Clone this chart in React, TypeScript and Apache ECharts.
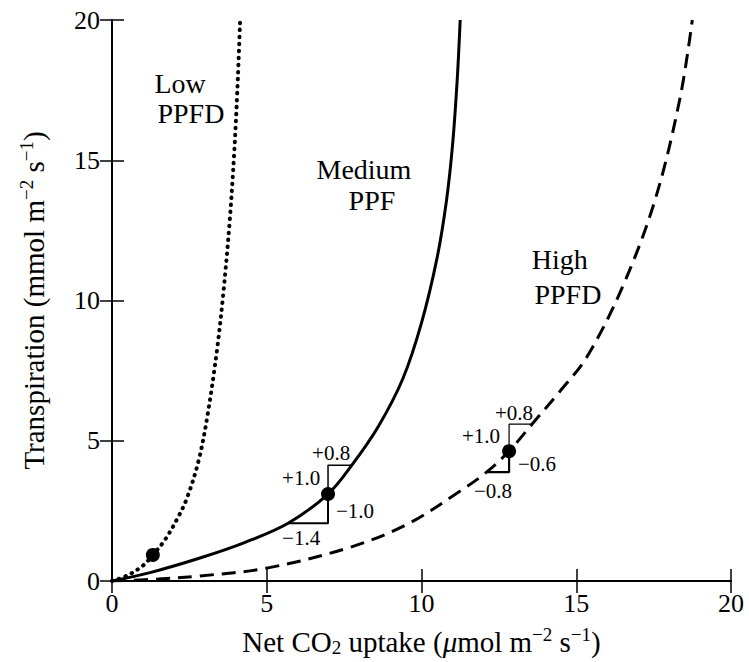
import React, { useEffect, useRef } from "react";
import * as echarts from "echarts";

const FONT = "'Liberation Serif', 'DejaVu Serif', serif";

const xTicks = [0, 5, 10, 15, 20];
const yTicks = [0, 5, 10, 15, 20];

// Low PPFD (dotted)
const lowX = [0, 0.5, 1.0, 1.32, 1.7, 2.1, 2.42, 2.8, 3.1, 3.4, 3.6, 3.8, 3.95, 4.05, 4.14];
const lowY = [0, 0.2, 0.55, 0.93, 1.45, 2.2, 2.95, 4.3, 6.0, 8.3, 10.3, 12.8, 15.3, 17.5, 20];

// Medium PPF (solid)
const medX = [0, 1.23, 2.84, 4.3, 5.69, 6.98, 7.75, 8.6, 9.4, 10.0, 10.5, 10.8, 11.0, 11.15, 11.25];
const medY = [0, 0.3, 0.82, 1.38, 2.06, 3.1, 4.13, 5.5, 7.22, 9.2, 11.5, 13.5, 15.5, 17.8, 20];

// High PPFD (dashed)
const highX = [0, 1.5, 2.84, 5.0, 7.6, 9.5, 11.24, 12.1, 12.83, 13.57, 14.5, 15.35, 16.5, 17.55, 18.35, 18.75];
const highY = [0, 0.07, 0.18, 0.46, 1.17, 2.0, 3.2, 3.88, 4.63, 5.59, 6.8, 8.0, 10.5, 13.6, 17.2, 20];

// operating points (dots)
const dotX = [1.32, 6.98, 12.83];
const dotY = [0.93, 3.1, 4.63];

// sensitivity triangles
const medUpper = [[6.98, 3.1], [6.98, 4.13], [7.75, 4.13]];
const medLower = [[6.98, 3.1], [6.98, 2.06], [5.69, 2.06]];
const highUpper = [[12.83, 4.63], [12.83, 5.59], [13.57, 5.59]];
const highLower = [[12.83, 4.63], [12.83, 3.88], [12.1, 3.88]];

// annotation texts
const annoText = ["+0.8", "+1.0", "\u22121.0", "\u22121.4", "+0.8", "+1.0", "\u22120.6", "\u22120.8"];
const annoX = [7.08, 6.11, 7.85, 6.11, 12.99, 11.92, 13.73, 12.31];
const annoY = [4.56, 3.67, 2.49, 1.53, 5.98, 5.16, 4.16, 3.2];

// curve labels
const curveText = ["Low", "PPFD", "Medium", "PPF", "High", "PPFD"];
const curveX = [2.2, 2.55, 8.14, 8.4, 14.47, 14.73];
const curveY = [17.75, 16.66, 14.68, 13.56, 11.45, 10.2];

const zip = (xs: number[], ys: number[]) => xs.map((x, i) => [x, ys[i]]);

export default function App() {
  const ref = useRef<HTMLDivElement>(null);
  useEffect(() => {
    document.body.style.margin = "0";
    if (!ref.current) return;
    const chart = echarts.init(ref.current, null, { renderer: "svg" });
    const axisCommon = {
      min: 0,
      max: 20,
      interval: 5,
      axisLine: { show: true, lineStyle: { color: "#000", width: 2 } },
      axisTick: { show: true, inside: true, length: 12, lineStyle: { color: "#000", width: 1.5 } },
      splitLine: { show: false },
    };
    const labelStyle = { color: "#000", fontFamily: FONT, fontSize: 26 };
    const rich = {
      n: { fontFamily: FONT, fontSize: 29, color: "#000" },
      i: { fontFamily: FONT, fontSize: 29, color: "#000", fontStyle: "italic" },
      sub: { fontFamily: FONT, fontSize: 19, color: "#000", padding: [12, 0, 0, 0] },
      sup: { fontFamily: FONT, fontSize: 19, color: "#000", padding: [0, 0, 14, 0] },
    };
    const lineSeries = (data: number[][], style: any) => ({
      type: "line",
      data,
      showSymbol: false,
      smooth: 0.35,
      lineStyle: style,
      z: 3,
    });
    const segSeries = (data: number[][], width: number) => ({
      type: "line",
      data,
      showSymbol: false,
      lineStyle: { color: "#000", width },
      z: 2,
    });
    const textSeries = (texts: string[], xs: number[], ys: number[], size: number) => ({
      type: "scatter",
      data: texts.map((t, i) => ({ name: t, value: [xs[i], ys[i]] })),
      symbolSize: 0,
      itemStyle: { opacity: 1 },
      label: {
        show: true,
        position: "inside",
        formatter: (p: any) => p.name,
        color: "#000",
        opacity: 1,
        fontFamily: FONT,
        fontSize: size,
        lineHeight: size,
      },
      z: 6,
    });
    chart.setOption({
      animation: false,
      grid: { left: 112, right: 18, top: 20, bottom: 79, containLabel: false },
      xAxis: [
        {
          type: "value",
          ...axisCommon,
          position: "bottom",
          axisLabel: { ...labelStyle, margin: 9, formatter: (v: number) => (xTicks.includes(v) ? String(v) : "") },
          name: "{n|Net CO}{sub|2}{n| uptake (}{i|\u03bc}{n|mol m}{sup|\u22122}{n| s}{sup|\u22121}{n|)}",
          nameLocation: "middle",
          nameGap: 44,
          nameTextStyle: { ...labelStyle, fontSize: 29, rich },
        },
        {
          type: "value",
          ...axisCommon,
          position: "top",
          axisLabel: { show: false },
        },
      ],
      yAxis: [
        {
          type: "value",
          ...axisCommon,
          position: "left",
          axisLabel: { ...labelStyle, margin: 12, formatter: (v: number) => (yTicks.includes(v) ? String(v) : "") },
          name: "{n|Transpiration (mmol m}{sup|\u22122}{n| s}{sup|\u22121}{n|)}",
          nameLocation: "middle",
          nameGap: 62,
          nameRotate: 90,
          nameTextStyle: { ...labelStyle, fontSize: 29, rich },
        },
        {
          type: "value",
          ...axisCommon,
          position: "right",
          axisLabel: { show: false },
        },
      ],
      series: [
        lineSeries(zip(lowX, lowY), { color: "#000", width: 4, type: [0.5, 6.5], cap: "round" }),
        lineSeries(zip(medX, medY), { color: "#000", width: 3 }),
        lineSeries(zip(highX, highY), { color: "#000", width: 3, type: [14, 8] }),
        segSeries(medUpper, 1.5),
        segSeries(medLower, 2),
        segSeries(highUpper, 1.2),
        segSeries(highLower, 2.2),
        {
          type: "scatter",
          data: zip(dotX, dotY),
          symbol: "circle",
          symbolSize: 14,
          itemStyle: { color: "#000", opacity: 1 },
          z: 5,
        },
        textSeries(annoText, annoX, annoY, 21),
        textSeries(curveText, curveX, curveY, 28),
      ],
    });
    return () => chart.dispose();
  }, []);
  return <div ref={ref} style={{ width: 749, height: 662 }} />;
}
